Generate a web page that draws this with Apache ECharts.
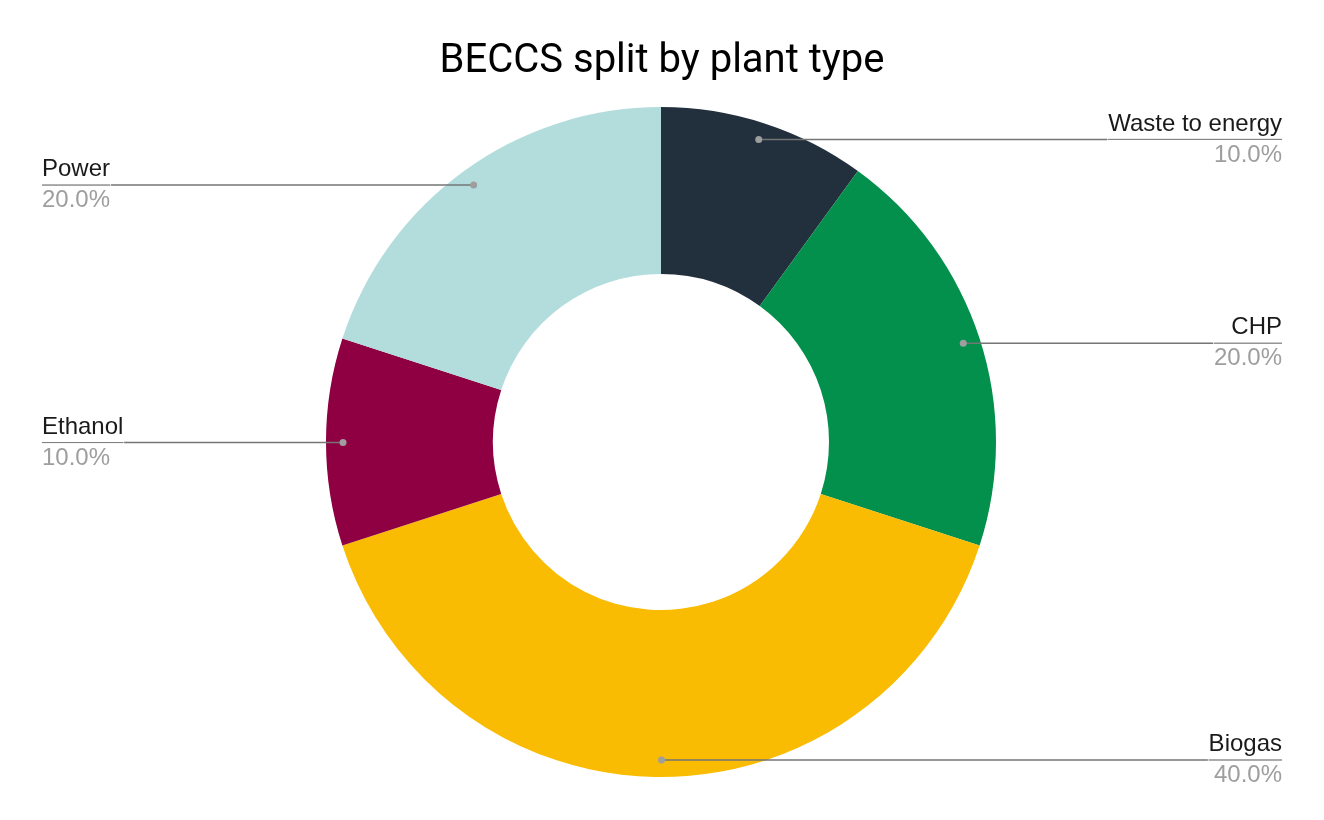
<!DOCTYPE html>
<html>
<head>
<meta charset="utf-8">
<script src="https://cdn.jsdelivr.net/npm/echarts@6/dist/echarts.min.js"></script>
<style>
html,body{margin:0;padding:0;background:#fff;}
#chart{width:1324px;height:820px;}
</style>
</head>
<body>
<div id="chart"></div>
<script>
const titleText = 'BECCS split by plant type';
const categories = ['Waste to energy', 'CHP', 'Biogas', 'Ethanol', 'Power'];
const values = [10, 20, 40, 10, 20];
const colors = ['#222f3c', '#03904c', '#f9bc02', '#8e0042', '#b3dddd'];

const chart = echarts.init(document.getElementById('chart'), null, {renderer: 'canvas'});
const center = [661, 442];
const dataMain = categories.map((c, i) => ({name: c, value: values[i], itemStyle: {color: colors[i]}}));
const dataPlain = categories.map((c, i) => ({name: c, value: values[i]}));
const labelFont = "'Liberation Sans', Arial, sans-serif";

chart.setOption({
  backgroundColor: '#ffffff',
  animation: false,
  title: {
    text: titleText,
    left: 'center',
    top: 37,
    textStyle: {fontFamily: 'Roboto', fontSize: 40, fontWeight: 'normal', color: '#000000'}
  },
  series: [
    {
      type: 'pie',
      z: 1,
      center: center,
      radius: [168, 335],
      startAngle: 90,
      clockwise: true,
      silent: true,
      label: {show: false},
      labelLine: {show: false},
      itemStyle: {borderWidth: 0},
      data: dataMain
    },
    {
      type: 'pie',
      z: 3,
      center: center,
      radius: [0, 318],
      startAngle: 90.1,
      clockwise: true,
      silent: true,
      itemStyle: {color: 'rgba(0,0,0,0)'},
      label: {
        show: true,
        position: 'outside',
        alignTo: 'edge',
        edgeDistance: 42,
        distanceToLabelLine: 0,
        fontFamily: labelFont,
        fontSize: 24,
        formatter: function (p) {
          return '{n|' + p.name + '}\n{hr|}\n{p|' + p.percent.toFixed(1) + '%}';
        },
        rich: {
          n: {fontFamily: labelFont, fontSize: 24, color: '#1a1a1a', lineHeight: 31},
          hr: {width: '100%', height: 0, borderColor: '#757575', borderWidth: 0.75},
          p: {fontFamily: labelFont, fontSize: 24, color: '#9e9e9e', lineHeight: 31}
        }
      },
      labelLine: {
        show: true,
        length: 0,
        length2: 10,
        smooth: false,
        lineStyle: {color: '#757575', width: 1.5}
      },
      data: dataPlain
    },
    {
      type: 'pie',
      z: 4,
      center: center,
      radius: [309, 321],
      startAngle: 90.1,
      clockwise: true,
      silent: true,
      itemStyle: {color: 'rgba(0,0,0,0)'},
      label: {
        show: true,
        position: 'inside',
        formatter: '{dot|}',
        rich: {dot: {width: 7, height: 7, lineHeight: 7, borderRadius: 3.5, backgroundColor: '#9e9e9e'}}
      },
      labelLine: {show: false},
      data: dataPlain
    }
  ]
});
</script>
</body>
</html>
